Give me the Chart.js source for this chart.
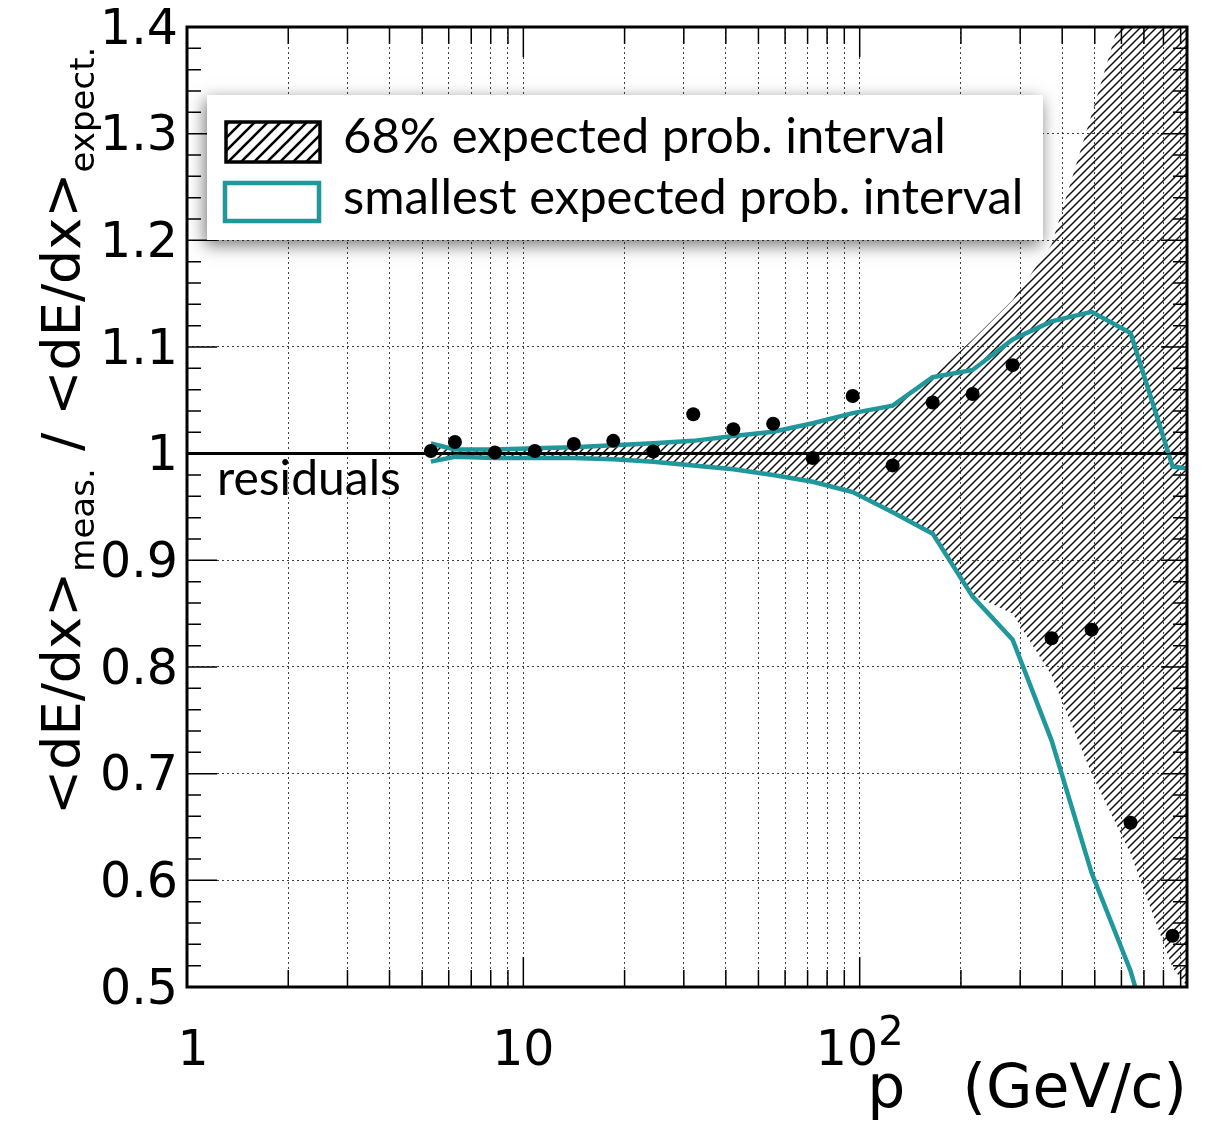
<!DOCTYPE html>
<html>
<head>
<meta charset="utf-8">
<title>dE/dx residuals</title>
<script src="https://cdn.jsdelivr.net/npm/chart.js@4.4.1/dist/chart.umd.min.js"></script>
<style>
  html, body { margin: 0; padding: 0; background: #fff; }
  canvas { display: block; }
</style>
</head>
<body>
<canvas id="residualChart" width="1209" height="1121"></canvas>
<script>
// momentum bins (GeV/c) and measured / expected dE/dx in each bin
const momentum = [5.31, 6.26, 8.23, 10.82, 14.13, 18.51, 24.34, 32.0, 42.1, 55.3,
                  72.5, 95.3, 125.3, 164.8, 216.7, 284.9, 372.1, 489.2, 638.8, 851.6];
const residuals = [1.0025, 1.011, 1.001, 1.0025, 1.009, 1.012, 1.002, 1.037, 1.023, 1.028,
                   0.996, 1.054, 0.989, 1.048, 1.056, 1.083, 0.827, 0.835, 0.654, 0.548];

// interval bands use the same bins plus one point past the right edge
const bandMomentum = [...momentum, 1000];
const smallestUpper = [1.0095, 1.004, 1.004, 1.005, 1.006, 1.008, 1.0098, 1.012, 1.0166, 1.0206,
                       1.0285, 1.038, 1.045, 1.0717, 1.0785, 1.107, 1.124, 1.133, 1.113, 0.988, 0.985];
const smallestLower = [0.9925, 0.997, 0.996, 0.996, 0.996, 0.9947, 0.9925, 0.989, 0.9853, 0.980,
                       0.9737, 0.964, 0.945, 0.925, 0.866, 0.8255, 0.731, 0.607, 0.515, 0.38, 0.30];
const prob68Upper = [1.0095, 1.004, 1.004, 1.005, 1.006, 1.008, 1.0098, 1.012, 1.0166, 1.0206,
                     1.0285, 1.038, 1.045, 1.072, 1.107, 1.144, 1.196, 1.318, 1.44, 1.6, 1.68];
const prob68Lower = [0.9925, 0.997, 0.996, 0.996, 0.996, 0.9947, 0.9925, 0.989, 0.9853, 0.980,
                     0.9737, 0.964, 0.945, 0.925, 0.868, 0.85, 0.792, 0.70, 0.625, 0.518, 0.49];

// axis ticks
const yTicks = [0.5, 0.6, 0.7, 0.8, 0.9, 1.0, 1.1, 1.2, 1.3, 1.4];
const xGrid = [1, 2, 3, 4, 5, 6, 7, 8, 9,
               10, 20, 30, 40, 50, 60, 70, 80, 90,
               100, 200, 300, 400, 500, 600, 700, 800, 900];
const xLabelValues = [1, 10, 100];
const xLabelText = ['1', '10', '10'];
const xLabelExp = ['', '', '2'];

const teal = '#20979a';
const tickFont = 'DejaVu Sans';
const legendFont = 'Lato';

// diagonal "///" hatching
function makeHatch(ctx, step, width, color) {
  const c = document.createElement('canvas');
  c.width = step;
  c.height = step;
  const g = c.getContext('2d');
  g.strokeStyle = color;
  g.lineWidth = width;
  g.beginPath();
  g.moveTo(-1, step + 1); g.lineTo(step + 1, -1);
  g.moveTo(-2, 2); g.lineTo(2, -2);
  g.moveTo(step - 2, step + 2); g.lineTo(step + 2, step - 2);
  g.stroke();
  return ctx.createPattern(c, 'repeat');
}

const canvas = document.getElementById('residualChart');
const ctx2d = canvas.getContext('2d');
const hatch = makeHatch(ctx2d, 8, 1.5, '#111');
const legendHatch = makeHatch(ctx2d, 13, 2.6, '#000');

const pts = (xs, ys) => ys.map((y, i) => ({x: xs[i], y: y}));

// frame and inner tick marks, ROOT style
const framePlugin = {
  id: 'frame',
  afterDatasetsDraw(chart) {
    const {ctx, chartArea: a, scales: {x, y}} = chart;
    ctx.save();
    ctx.strokeStyle = '#000';
    ctx.lineWidth = 1.5;
    ctx.beginPath();
    xGrid.forEach(v => {
      const px = x.getPixelForValue(v);
      const len = xLabelValues.includes(v) ? 30 : 17;
      ctx.moveTo(px, a.bottom); ctx.lineTo(px, a.bottom - len);
      ctx.moveTo(px, a.top); ctx.lineTo(px, a.top + len);
    });
    for (let i = 0; i < yTicks.length; i++) {
      const py = y.getPixelForValue(yTicks[i]);
      ctx.moveTo(a.left, py); ctx.lineTo(a.left + 30, py);
      ctx.moveTo(a.right, py); ctx.lineTo(a.right - 26, py);
      if (i < yTicks.length - 1) {
        const step = (yTicks[i + 1] - yTicks[i]) / 5;
        for (let k = 1; k < 5; k++) {
          const pm = y.getPixelForValue(yTicks[i] + k * step);
          ctx.moveTo(a.left, pm); ctx.lineTo(a.left + 14, pm);
          ctx.moveTo(a.right, pm); ctx.lineTo(a.right - 14, pm);
        }
      }
    }
    ctx.stroke();
    ctx.lineWidth = 3;
    ctx.strokeRect(a.left, a.top, a.width, a.height);
    ctx.restore();
  }
};

// x tick labels with exponents, y title with subscripts, legend box and note
const textPlugin = {
  id: 'texts',
  afterDraw(chart) {
    const {ctx, chartArea: a, scales: {x}} = chart;
    ctx.save();
    ctx.fillStyle = '#000';

    // x labels
    ctx.textBaseline = 'alphabetic';
    xLabelValues.forEach((v, i) => {
      ctx.font = `49px "${tickFont}"`;
      const wBase = ctx.measureText(xLabelText[i]).width;
      ctx.font = `40px "${tickFont}"`;
      const wExp = xLabelExp[i] ? ctx.measureText(xLabelExp[i]).width : 0;
      const left = x.getPixelForValue(v) - (wBase + wExp) / 2 + (v === 1 ? 6 : 0);
      ctx.font = `49px "${tickFont}"`;
      ctx.textAlign = 'left';
      ctx.fillText(xLabelText[i], left, a.bottom + 78);
      if (xLabelExp[i]) {
        ctx.font = `40px "${tickFont}"`;
        ctx.fillText(xLabelExp[i], left + wBase, a.bottom + 58);
      }
    });

    // y title, rotated
    ctx.save();
    ctx.translate(80, 815);
    ctx.rotate(-Math.PI / 2);
    const parts = [['<dE/dx>', 54, 0], ['meas.', 34, 14], [' / ', 54, 0], ['<dE/dx>', 54, 0], ['expect.', 34, 14]];
    let cx = 0;
    parts.forEach(([t, size, dy]) => {
      ctx.font = `${size}px "${tickFont}"`;
      ctx.fillText(t, cx, dy);
      cx += ctx.measureText(t).width;
    });
    ctx.restore();

    // legend
    const lx = a.left + 20, ly = a.top + 68, lw = 836, lh = 145;
    ctx.save();
    ctx.shadowColor = 'rgba(0,0,0,0.55)';
    ctx.shadowBlur = 16;
    ctx.shadowOffsetX = -2;
    ctx.shadowOffsetY = 5;
    ctx.fillStyle = '#fff';
    ctx.fillRect(lx, ly, lw, lh);
    ctx.restore();

    ctx.fillStyle = legendHatch;
    ctx.fillRect(lx + 19, ly + 27, 94, 40);
    ctx.strokeStyle = '#000';
    ctx.lineWidth = 3.5;
    ctx.strokeRect(lx + 19, ly + 27, 94, 40);
    ctx.strokeStyle = teal;
    ctx.lineWidth = 4.5;
    ctx.strokeRect(lx + 18, ly + 88, 94, 38);

    ctx.fillStyle = '#000';
    ctx.font = `49px "${legendFont}"`;
    ctx.fillText('68% expected prob. interval', lx + 136, ly + 58);
    ctx.fillText('smallest expected prob. interval', lx + 136, ly + 119);

    // note under the reference line
    ctx.font = `48px "${legendFont}"`;
    ctx.fillText('residuals', a.left + 30, 495);
    ctx.restore();
  }
};

const isOne = c => c.tick && Math.abs(c.tick.value - 1) < 1e-9;

new Chart(canvas, {
  type: 'scatter',
  data: {
    datasets: [
      {
        label: 'residuals',
        data: pts(momentum, residuals),
        pointRadius: 7,
        pointBackgroundColor: '#000',
        pointBorderWidth: 0,
        order: 0,
        clip: 0
      },
      {
        label: 'smallest upper',
        data: pts(bandMomentum, smallestUpper),
        showLine: true,
        borderColor: teal,
        borderWidth: 4.5,
        pointRadius: 0,
        order: 1,
        clip: 0
      },
      {
        label: 'smallest lower',
        data: pts(bandMomentum, smallestLower),
        showLine: true,
        borderColor: teal,
        borderWidth: 4.5,
        pointRadius: 0,
        order: 1,
        clip: 0
      },
      {
        label: '68% upper',
        data: pts(bandMomentum, prob68Upper),
        showLine: true,
        borderColor: 'rgba(0,0,0,0)',
        borderWidth: 0,
        pointRadius: 0,
        backgroundColor: hatch,
        fill: '+1',
        order: 3,
        clip: 0
      },
      {
        label: '68% lower',
        data: pts(bandMomentum, prob68Lower),
        showLine: true,
        borderColor: 'rgba(0,0,0,0)',
        borderWidth: 0,
        pointRadius: 0,
        order: 3,
        clip: 0
      }
    ]
  },
  options: {
    responsive: false,
    animation: false,
    devicePixelRatio: 1,
    layout: {padding: {top: 27, right: 22, left: 0, bottom: 0}},
    plugins: {legend: {display: false}, tooltip: {enabled: false}},
    scales: {
      x: {
        type: 'logarithmic',
        min: 1,
        max: 940,
        afterBuildTicks: s => { s.ticks = xGrid.map(v => ({value: v})); },
        afterFit: s => { s.height = 134; s.paddingLeft = 0; s.paddingRight = 0; },
        ticks: {display: false, autoSkip: false},
        grid: {color: 'rgba(0,0,0,0.75)', lineWidth: 1, drawTicks: false},
        border: {display: false, dash: [2, 3]},
        title: {
          display: true,
          text: 'p   (GeV/c)',
          align: 'end',
          color: '#000',
          font: {family: tickFont, size: 60, lineHeight: 1.0},
          padding: {top: 0, bottom: 0}
        }
      },
      y: {
        min: 0.5,
        max: 1.4,
        afterBuildTicks: s => { s.ticks = yTicks.map(v => ({value: v})); },
        afterFit: s => { s.width = 187; s.paddingTop = 0; s.paddingBottom = 0; },
        ticks: {
          autoSkip: false,
          padding: 9,
          labelOffset: 4,
          color: '#000',
          font: {family: tickFont, size: 49},
          callback: v => String(+v.toFixed(1))
        },
        grid: {
          color: c => isOne(c) ? '#000' : 'rgba(0,0,0,0.75)',
          lineWidth: c => isOne(c) ? 3 : 1,
          drawTicks: false
        },
        border: {display: false, dash: c => isOne(c) ? [] : [2, 3]}
      }
    }
  },
  plugins: [framePlugin, textPlugin]
});
</script>
</body>
</html>
